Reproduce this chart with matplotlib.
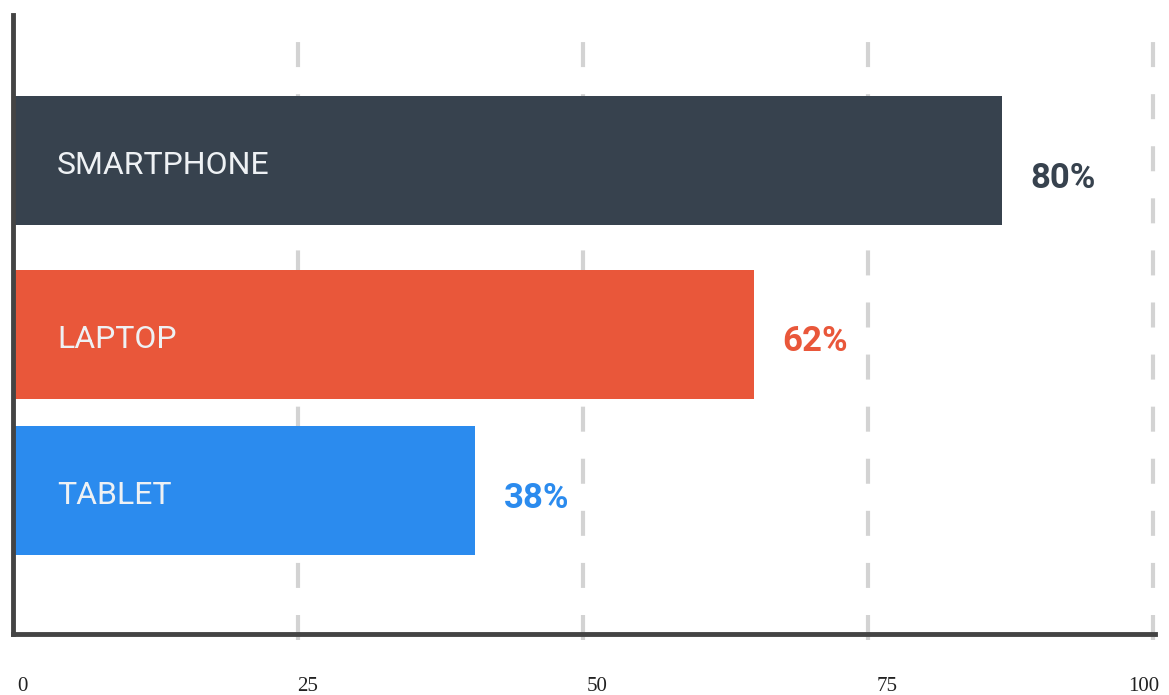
import matplotlib.pyplot as plt
from matplotlib.transforms import ScaledTranslation

# data
devices = ["SMARTPHONE", "LAPTOP", "TABLET"]
bar_values = [86.6, 64.9, 40.4]
share_labels = ["80%", "62%", "38%"]
colors = ["#37424E", "#E9573A", "#2B8BEE"]
tick_values = [0, 25, 50, 75, 100]
tick_labels = ["0", "25", "50", "75", "100"]

# layout (bar centres in bar-height units, from the bottom axis)
ypos = [3.67, 2.32, 1.116]
pct_dy = [-18, -7, -8]
tick_dx = [9, 10, 14, 19, 7]

fig = plt.figure(figsize=(11.69, 6.95), dpi=100)
ax = fig.add_axes([13 / 1169, 61 / 695, 1142 / 1169, 619 / 695])
ax.set_xlim(0, 100.2)
ax.set_ylim(0, 4.80)

for x in tick_values[1:]:
    ax.axvline(x, ymin=-0.01, ymax=1, color="#D3D3D3", lw=3,
               dashes=(6, 6.5), zorder=0, clip_on=False)

ax.barh(ypos, bar_values, height=1.0, color=colors, zorder=2, left=0.15)

for y, v, name, lab, c, dy in zip(ypos, bar_values, devices, share_labels,
                                  colors, pct_dy):
    ax.annotate(name, (0, y), xytext=(44, -5), textcoords="offset pixels",
                ha="left", va="center", color="#EEF1F4", fontsize=23,
                family="Roboto", zorder=3)
    ax.annotate(lab, (v, y), xytext=(30, dy), textcoords="offset pixels",
                ha="left", va="center", color=c, fontsize=25,
                family="Roboto", fontweight="bold", zorder=3)

for s in ["top", "right"]:
    ax.spines[s].set_visible(False)
for s in ["left", "bottom"]:
    ax.spines[s].set_color("#444444")
    ax.spines[s].set_linewidth(3.5)

ax.set_yticks([])
ax.set_xticks(tick_values)
ax.set_xticklabels(tick_labels, family="Liberation Serif", fontsize=15,
                   color="#222222")
ax.tick_params(axis="x", length=0, pad=31)
labels = ax.get_xticklabels()
for t, dx in zip(labels, tick_dx):
    shift = ScaledTranslation(dx / 100, 0, fig.dpi_scale_trans)
    t.set_transform(t.get_transform() + shift)
labels[-1].set_ha("right")

fig.savefig("out.png", dpi=100)
